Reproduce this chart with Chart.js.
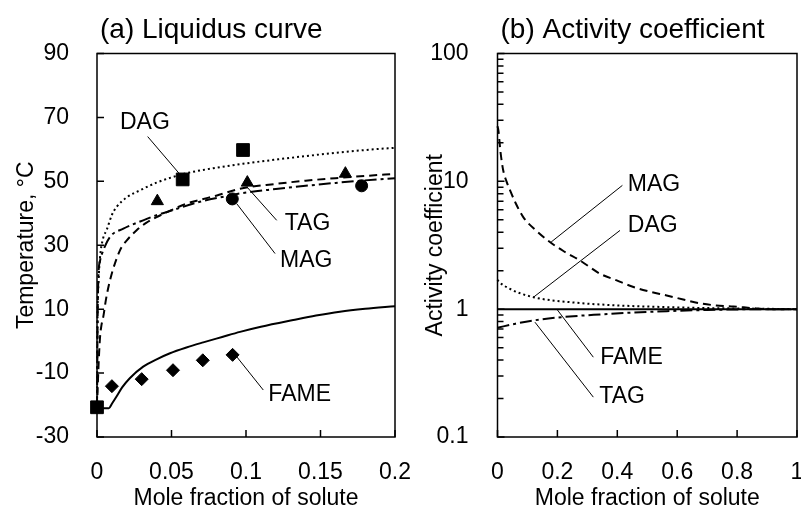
<!DOCTYPE html>
<html lang="en">
<head>
<meta charset="UTF-8">
<title>Liquidus curve and activity coefficient</title>
<script src="https://cdn.jsdelivr.net/npm/chart.js"></script>
<style>
    body { margin: 0; background: #fff; }
    #wrap { position: relative; width: 801px; height: 511px; }
    canvas { position: absolute; top: 0; }
    #chartA { left: 0; }
    #chartB { left: 410px; }
</style>
</head>
<body>

<div id="wrap">
    <canvas id="chartA" width="410" height="511"></canvas>
    <canvas id="chartB" width="391" height="511"></canvas>
</div>

<script>
    // ---- (a) liquidus curve: model curves (mole fraction, temperature °C)
    const fameCurveX = [0, 0.008, 0.01, 0.013, 0.017, 0.022, 0.031, 0.04, 0.049, 0.06, 0.0713, 0.084, 0.096, 0.11, 0.1317, 0.147, 0.163, 0.18, 0.2];
    const fameCurveT = [-21, -21, -19.6, -17.4, -14.4, -11.6, -8.0, -5.7, -3.8, -2.0, -0.4, 1.3, 2.9, 4.5, 6.6, 8.0, 9.2, 10.1, 10.9];
    const dagCurveX = [0, 0.0003, 0.001, 0.002, 0.004, 0.0065, 0.01, 0.0132, 0.02, 0.0289, 0.04, 0.058, 0.078, 0.098, 0.12, 0.14, 0.16, 0.18, 0.2];
    const dagCurveT = [-21, 5, 18, 26, 32, 34.8, 39.5, 42, 45, 47.2, 49.6, 52.3, 54.1, 55.5, 56.8, 57.9, 58.9, 59.8, 60.5];
    const magCurveX = [0, 0.001, 0.002, 0.003, 0.0042, 0.006, 0.0087, 0.0154, 0.02, 0.0266, 0.033, 0.04, 0.05, 0.06, 0.069, 0.08, 0.096, 0.12, 0.14, 0.16, 0.18, 0.2];
    const magCurveT = [-21, -8, 1, 5, 7.6, 13, 19, 28.4, 31.5, 34.7, 37, 38.8, 41, 43, 44.2, 45.5, 47.7, 49.2, 50.2, 51.0, 51.7, 52.3];
    const tagCurveX = [0, 0.0005, 0.001, 0.002, 0.0042, 0.0087, 0.0177, 0.031, 0.04, 0.051, 0.069, 0.085, 0.096, 0.12, 0.14, 0.16, 0.18, 0.2];
    const tagCurveT = [-21, 10, 21, 25, 28.4, 32.6, 35.2, 37.8, 39.4, 41, 43.6, 45.2, 46.2, 47.6, 48.6, 49.5, 50.3, 51.0];

    // ---- (a) measured points
    const solventX = [0];
    const solventT = [-20.7];
    const dagObsX = [0.0575, 0.098];
    const dagObsT = [50.6, 59.8];
    const tagObsX = [0.0405, 0.1009, 0.1667];
    const tagObsT = [43.8, 49.6, 52.4];
    const magObsX = [0.0908, 0.1776];
    const magObsT = [44.5, 48.6];
    const fameObsX = [0.010, 0.030, 0.051, 0.071, 0.091];
    const fameObsT = [-14.1, -11.9, -9.1, -6.0, -4.3];

    // ---- (b) activity coefficients
    const magGammaX = [0, 0.003, 0.01, 0.019, 0.03, 0.042, 0.06, 0.086, 0.13, 0.175, 0.22, 0.276, 0.343, 0.398, 0.454, 0.51, 0.565, 0.62, 0.677, 0.73, 0.788, 0.85, 0.9, 1];
    const magGamma = [27, 25, 17, 12.2, 10, 8.5, 6.8, 5.25, 4.1, 3.35, 2.85, 2.4, 1.89, 1.68, 1.49, 1.37, 1.28, 1.19, 1.11, 1.07, 1.05, 1.02, 1.0, 1.0];
    const dagGammaX = [0, 0.003, 0.042, 0.12, 0.25, 0.4, 0.55, 0.7, 0.85, 1];
    const dagGamma = [1.7, 1.66, 1.44, 1.24, 1.13, 1.07, 1.04, 1.02, 1.01, 1.0];
    const fameGammaX = [0, 1];
    const fameGamma = [1, 1];
    const tagGammaX = [0, 0.06, 0.12, 0.2, 0.343, 0.45, 0.565, 0.7, 0.8, 0.9, 1];
    const tagGamma = [0.715, 0.77, 0.816, 0.86, 0.91, 0.94, 0.965, 0.985, 0.995, 1.0, 1.0];

    // ---- ticks
    const fracTicksA = [0, 0.05, 0.1, 0.15, 0.2];
    const tempTicks = [-30, -10, 10, 30, 50, 70, 90];
    const fracTicksB = [0, 0.2, 0.4, 0.6, 0.8, 1];
    const gammaTicks = [0.1, 1, 10, 100];
    const gammaMinor = [];
    [0.1, 1, 10].forEach(d => { for (let k = 2; k <= 9; k++) gammaMinor.push(k * d); });

    // leader lines and labels, in data units
    const notesA = [
        { text: 'DAG', from: [0.034, 64], to: [0.056, 52], at: [0.0154, 68.4] },
        { text: 'TAG', from: [0.1007, 48.2], to: [0.1206, 37.8], at: [0.126, 36.7] },
        { text: 'MAG', from: [0.0938, 43.0], to: [0.1195, 27.4], at: [0.1228, 25.3] },
        { text: 'FAME', from: [0.0938, -4.9], to: [0.1116, -15.3], at: [0.115, -16.6] }
    ];
    const notesB = [
        { text: 'MAG', from: [0.179, 3.35], to: [0.417, 9.3], at: [0.435, 9.47] },
        { text: 'DAG', from: [0.12, 1.24], to: [0.409, 4.13], at: [0.435, 4.48] },
        { text: 'FAME', from: [0.198, 1.0], to: [0.32, 0.421], at: [0.343, 0.418] },
        { text: 'TAG', from: [0.125, 0.791], to: [0.32, 0.205], at: [0.34, 0.207] }
    ];

    const FONT = '"Liberation Sans", Arial, Helvetica, sans-serif';
    Chart.defaults.font.family = FONT;
    Chart.defaults.color = '#000';

    function pts(xs, ys) {
        return xs.map((x, i) => ({ x: x, y: ys[i] }));
    }

    function curve(label, xs, ys, dash) {
        return {
            label: label, data: pts(xs, ys), borderColor: '#000', borderWidth: 2,
            borderDash: dash, pointRadius: 0, fill: false,
            cubicInterpolationMode: 'monotone', clip: 3
        };
    }

    function marks(label, xs, ys, style, r) {
        return {
            label: label, data: pts(xs, ys), showLine: false, pointStyle: style,
            pointRadius: r, pointHoverRadius: r, pointBackgroundColor: '#000',
            pointBorderColor: '#000', pointBorderWidth: 1, clip: false
        };
    }

    // frame, inward ticks, titles and leader labels
    function decor(o) {
        return {
            id: 'decor',
            afterDraw(chart) {
                const ctx = chart.ctx, a = chart.chartArea;
                const sx = chart.scales.x, sy = chart.scales.y;
                const px = v => sx.getPixelForValue(v), py = v => sy.getPixelForValue(v);
                ctx.save();
                ctx.strokeStyle = '#000';
                ctx.fillStyle = '#000';

                ctx.lineWidth = 1;
                ctx.beginPath();
                o.notes.forEach(n => {
                    ctx.moveTo(px(n.from[0]), py(n.from[1]));
                    ctx.lineTo(px(n.to[0]), py(n.to[1]));
                });
                ctx.stroke();

                ctx.lineWidth = 1.5;
                ctx.strokeRect(a.left, a.top, a.right - a.left, a.bottom - a.top);
                ctx.beginPath();
                sx.ticks.forEach(t => { const x = px(t.value); ctx.moveTo(x, a.bottom); ctx.lineTo(x, a.bottom - 7); });
                sy.ticks.forEach(t => { const y = py(t.value); ctx.moveTo(a.left, y); ctx.lineTo(a.left + 7, y); });
                (o.minor || []).forEach(v => { const y = py(v); ctx.moveTo(a.left, y); ctx.lineTo(a.left + 6, y); });
                ctx.stroke();

                ctx.font = '23px ' + FONT;
                ctx.textBaseline = 'middle';
                ctx.textAlign = 'left';
                o.notes.forEach(n => ctx.fillText(n.text, px(n.at[0]), py(n.at[1])));

                ctx.textAlign = 'center';
                ctx.fillText(o.xTitle, (a.left + a.right) / 2, 499);
                ctx.save();
                ctx.translate(o.yTitleX, (a.top + a.bottom) / 2);
                ctx.rotate(-Math.PI / 2);
                ctx.fillText(o.yTitle, 0, 0);
                ctx.restore();

                ctx.font = '28px ' + FONT;
                ctx.textAlign = 'left';
                ctx.textBaseline = 'alphabetic';
                ctx.fillText(o.title, a.left + 3, 38);
                ctx.restore();
            }
        };
    }

    function xAxis(min, max, ticks) {
        return {
            type: 'linear', min: min, max: max,
            grid: { display: false }, border: { display: false },
            afterBuildTicks: s => { s.ticks = ticks.map(v => ({ value: v })); },
            ticks: { padding: 14, font: { size: 23 }, color: '#000', autoSkip: false, maxRotation: 0, callback: v => String(v) },
            afterFit: s => { s.height = 74; s.paddingLeft = 0; s.paddingRight = 0; }
        };
    }

    function yAxis(type, min, max, ticks, width, pad) {
        return {
            type: type, min: min, max: max,
            grid: { display: false }, border: { display: false },
            afterBuildTicks: s => { s.ticks = ticks.map(v => ({ value: v })); },
            ticks: { padding: pad, font: { size: 23 }, color: '#000', autoSkip: false, callback: v => String(v) },
            afterFit: s => { s.width = width; s.paddingTop = 0; s.paddingBottom = 0; }
        };
    }

    function baseOptions(rightPad, scales) {
        return {
            responsive: false,
            animation: false,
            events: [],
            layout: { padding: { top: 53.5, right: rightPad, bottom: 0, left: 0 } },
            plugins: { legend: { display: false }, tooltip: { enabled: false } },
            scales: scales
        };
    }

    new Chart(document.getElementById('chartA'), {
        type: 'line',
        data: {
            datasets: [
                marks('Pure FAME', solventX, solventT, 'rect', 9),
                marks('DAG data', dagObsX, dagObsT, 'rect', 9),
                marks('TAG data', tagObsX, tagObsT, 'triangle', 7),
                marks('MAG data', magObsX, magObsT, 'circle', 6),
                marks('FAME data', fameObsX, fameObsT, 'rectRot', 6.5),
                curve('FAME', fameCurveX, fameCurveT, []),
                curve('DAG', dagCurveX, dagCurveT, [2, 3]),
                curve('MAG', magCurveX, magCurveT, [8, 5]),
                curve('TAG', tagCurveX, tagCurveT, [12, 4, 3, 4])
            ]
        },
        options: baseOptions(15, {
            x: xAxis(0, 0.2, fracTicksA),
            y: yAxis('linear', -30, 90, tempTicks, 97, 20)
        }),
        plugins: [decor({
            title: '(a) Liquidus curve', xTitle: 'Mole fraction of solute',
            yTitle: 'Temperature, °C', yTitleX: 27, notes: notesA
        })]
    });

    new Chart(document.getElementById('chartB'), {
        type: 'line',
        data: {
            datasets: [
                curve('FAME', fameGammaX, fameGamma, []),
                curve('DAG', dagGammaX, dagGamma, [2, 3]),
                curve('MAG', magGammaX, magGamma, [8, 5]),
                curve('TAG', tagGammaX, tagGamma, [12, 4, 3, 4])
            ]
        },
        options: baseOptions(4, {
            x: xAxis(0, 1, fracTicksB),
            y: yAxis('logarithmic', 0.1, 100, gammaTicks, 87.5, 21)
        }),
        plugins: [decor({
            title: '(b) Activity coefficient', xTitle: 'Mole fraction of solute',
            yTitle: 'Activity coefficient', yTitleX: 26, notes: notesB, minor: gammaMinor
        })]
    });
</script>

</body>
</html>
